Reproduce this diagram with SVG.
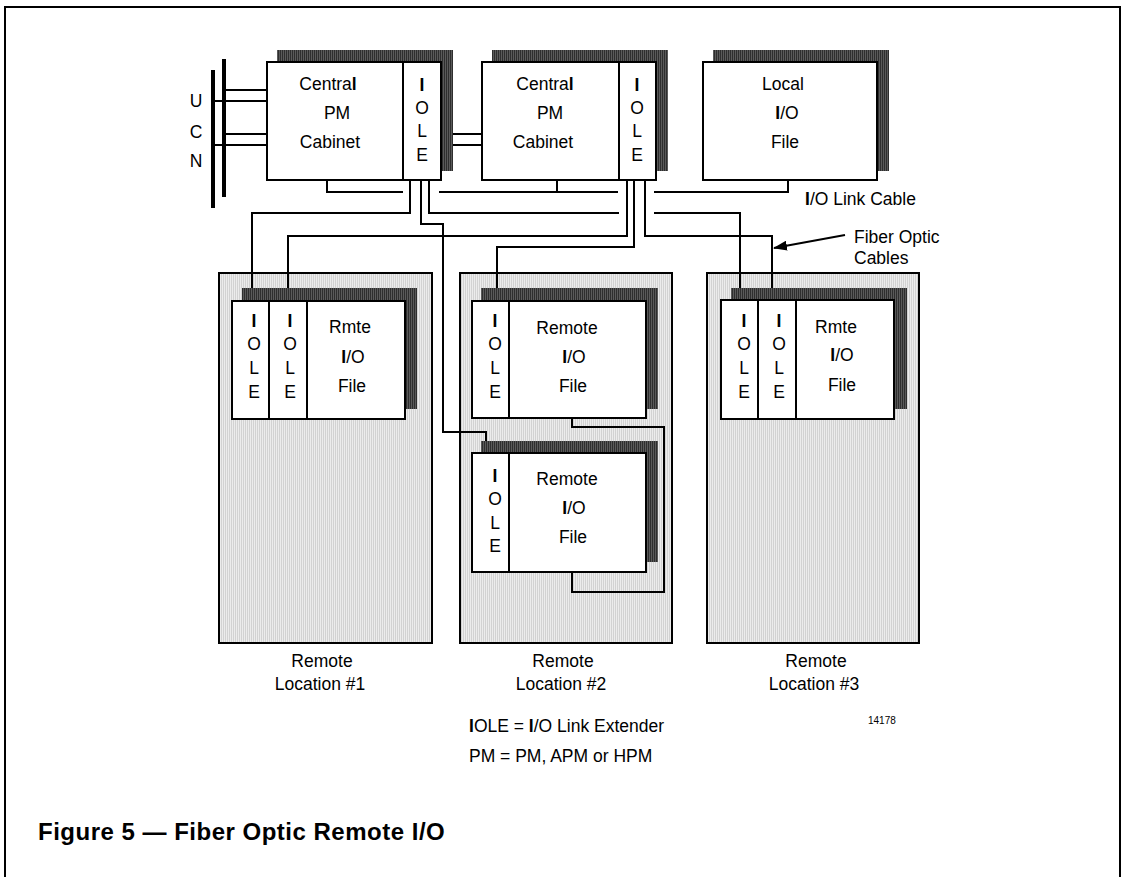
<svg xmlns="http://www.w3.org/2000/svg" width="1122" height="877" viewBox="0 0 1122 877">
<defs>
<pattern id="shade" width="2" height="2" patternUnits="userSpaceOnUse"><rect width="2" height="2" fill="#2e2e2e"/><rect x="1" width="1" height="2" fill="#5a5a5a"/></pattern>
<pattern id="stip" width="2" height="2" patternUnits="userSpaceOnUse"><rect width="2" height="2" fill="#ececec"/><rect x="1" width="1" height="2" fill="#d2d2d2"/></pattern>
<marker id="arr" markerWidth="14" markerHeight="10" refX="13" refY="5" orient="auto" markerUnits="userSpaceOnUse"><path d="M0,0 L14,5 L0,10 z" fill="#000"/></marker>
</defs>
<style>
text{font-family:"Liberation Sans",Arial,sans-serif;font-size:17.5px;fill:#000}
.c{text-anchor:middle}
.b{font-weight:bold}
.sh{fill:url(#shade)}
.bx{fill:#fff;stroke:#000;stroke-width:2}
.loc{fill:url(#stip);stroke:#000;stroke-width:2}
.ln{fill:none;stroke:#000;stroke-width:2}
.bar{stroke:#000;stroke-width:4}
</style>
<rect width="1122" height="877" fill="#fff"/>
<path class="ln" d="M5,877 V7 H1120 V877"/>

<g id="ucn">
<line class="bar" x1="213" y1="70" x2="213" y2="208"/>
<line class="bar" x1="224" y1="59" x2="224" y2="197"/>
<text class="c" x="196" y="107">U</text>
<text class="c" x="196" y="138">C</text>
<text class="c" x="196" y="167">N</text>
</g>

<g id="central1">
<rect class="sh" x="277" y="50" width="176" height="121"/>
<rect class="bx" x="267" y="62" width="174" height="118"/>
<line class="ln" x1="403" y1="62" x2="403" y2="180"/>
<text class="c" x="328" y="90">Centra<tspan class="b">l</tspan></text>
<text class="c" x="337" y="119">PM</text>
<text class="c" x="330" y="148">Cabinet</text>
<text class="c b" x="422" y="91">I</text>
<text class="c" x="422" y="114">O</text>
<text class="c" x="422" y="137">L</text>
<text class="c" x="422" y="161">E</text>
</g>

<g id="central2">
<rect class="sh" x="492" y="50" width="176" height="121"/>
<rect class="bx" x="482" y="62" width="174" height="118"/>
<line class="ln" x1="619" y1="62" x2="619" y2="180"/>
<text class="c" x="545" y="90">Centra<tspan class="b">l</tspan></text>
<text class="c" x="550" y="119">PM</text>
<text class="c" x="543" y="148">Cabinet</text>
<text class="c b" x="637" y="91">I</text>
<text class="c" x="637" y="114">O</text>
<text class="c" x="637" y="137">L</text>
<text class="c" x="637" y="161">E</text>
</g>

<g id="localio">
<rect class="sh" x="713" y="50" width="176" height="121"/>
<rect class="bx" x="703" y="62" width="174" height="118"/>
<text class="c" x="783" y="90">Local</text>
<text class="c" x="787" y="119"><tspan class="b">I</tspan>/O</text>
<text class="c" x="785" y="148">File</text>
</g>

<g id="remote1">
<rect class="loc" x="219" y="273" width="213" height="370"/>
<rect class="sh" x="242" y="288" width="175" height="121"/>
<rect class="bx" x="232" y="301" width="173" height="118"/>
<line class="ln" x1="269" y1="301" x2="269" y2="419"/>
<line class="ln" x1="307" y1="301" x2="307" y2="419"/>
<text class="c b" x="254" y="327">I</text>
<text class="c" x="254" y="350">O</text>
<text class="c" x="254" y="374">L</text>
<text class="c" x="254" y="398">E</text>
<text class="c b" x="290" y="327">I</text>
<text class="c" x="290" y="350">O</text>
<text class="c" x="290" y="374">L</text>
<text class="c" x="290" y="398">E</text>
<text class="c" x="350" y="333">Rmte</text>
<text class="c" x="353" y="363"><tspan class="b">I</tspan>/O</text>
<text class="c" x="352" y="392">File</text>
<text class="c" x="322" y="667">Remote</text>
<text class="c" x="320" y="690">Location #1</text>
</g>

<g id="remote2">
<rect class="loc" x="460" y="273" width="212" height="370"/>
<rect class="sh" x="481" y="288" width="177" height="121"/>
<rect class="bx" x="472" y="301" width="174" height="117"/>
<line class="ln" x1="509" y1="301" x2="509" y2="418"/>
<text class="c b" x="495" y="327">I</text>
<text class="c" x="495" y="350">O</text>
<text class="c" x="495" y="374">L</text>
<text class="c" x="495" y="398">E</text>
<text class="c" x="567" y="334">Remote</text>
<text class="c" x="574" y="363"><tspan class="b">I</tspan>/O</text>
<text class="c" x="573" y="392">File</text>
<rect class="sh" x="481" y="441" width="177" height="121"/>
<rect class="bx" x="472" y="453" width="174" height="119"/>
<line class="ln" x1="509" y1="453" x2="509" y2="572"/>
<text class="c b" x="495" y="482">I</text>
<text class="c" x="495" y="505">O</text>
<text class="c" x="495" y="529">L</text>
<text class="c" x="495" y="552">E</text>
<text class="c" x="567" y="485">Remote</text>
<text class="c" x="574" y="514"><tspan class="b">I</tspan>/O</text>
<text class="c" x="573" y="543">File</text>
<text class="c" x="563" y="667">Remote</text>
<text class="c" x="561" y="690">Location #2</text>
</g>

<g id="remote3">
<rect class="loc" x="707" y="273" width="212" height="370"/>
<rect class="sh" x="731" y="288" width="176" height="121"/>
<rect class="bx" x="721" y="300" width="173" height="119"/>
<line class="ln" x1="758" y1="300" x2="758" y2="419"/>
<line class="ln" x1="796" y1="300" x2="796" y2="419"/>
<text class="c b" x="744" y="327">I</text>
<text class="c" x="744" y="350">O</text>
<text class="c" x="744" y="374">L</text>
<text class="c" x="744" y="398">E</text>
<text class="c b" x="779" y="327">I</text>
<text class="c" x="779" y="350">O</text>
<text class="c" x="779" y="374">L</text>
<text class="c" x="779" y="398">E</text>
<text class="c" x="836" y="333">Rmte</text>
<text class="c" x="842" y="361"><tspan class="b">I</tspan>/O</text>
<text class="c" x="842" y="391">File</text>
<text class="c" x="816" y="667">Remote</text>
<text class="c" x="814" y="690">Location #3</text>
</g>

<g id="connectors">
<path class="ln" d="M224,90 H267 M213,101 H267 M224,134 H267 M213,145 H267"/>
<path class="ln" d="M453,134 H482 M453,145 H482"/>
<path class="ln" d="M327,180 V192 H403 M439,192 H618 M557,180 V192 M654,192 H788 V180"/>
<path class="ln" d="M410,180 V213 H252 V288"/>
<path class="ln" d="M421,180 V224 H443 V432 H486 V441"/>
<path class="ln" d="M429,180 V213 H619 M654,213 H740 V288"/>
<path class="ln" d="M627,180 V236 H288 V288"/>
<path class="ln" d="M634,180 V247 H497 V288"/>
<path class="ln" d="M645,180 V236 H772 V288"/>
<path class="ln" d="M572,418 V427 H664 V592 H572 V572"/>
<line class="ln" x1="845" y1="235" x2="774" y2="248" marker-end="url(#arr)"/>
</g>

<g id="labels">
<text x="805" y="205"><tspan class="b">I</tspan>/O Link Cable</text>
<text x="854" y="243">Fiber Optic</text>
<text x="854" y="264">Cables</text>
<text x="469" y="732"><tspan class="b">I</tspan>OLE = <tspan class="b">I</tspan>/O Link Extender</text>
<text x="469" y="762">PM = PM, APM or HPM</text>
<text x="868" y="724" style="font-size:10px">14178</text>
<text x="38" y="840" style="font-size:24px;font-weight:bold;letter-spacing:0.5px">Figure 5 — Fiber Optic Remote I/O</text>
</g>
</svg>
